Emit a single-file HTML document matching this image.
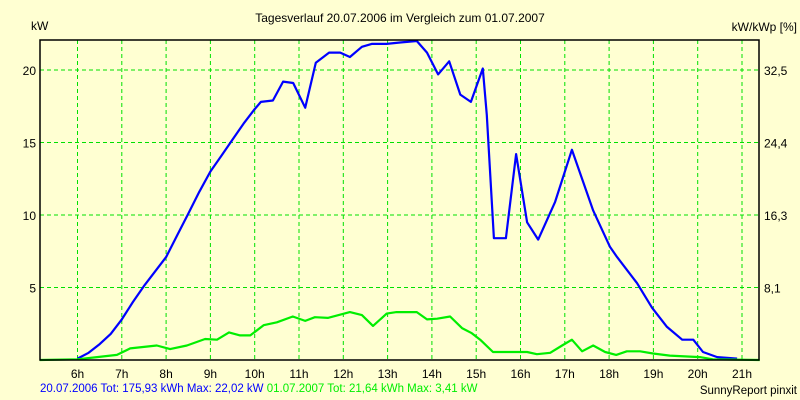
<!DOCTYPE html>
<html><head><meta charset="utf-8"><style>
body{margin:0;background:#ffffd2;}
svg{display:block;font-family:"Liberation Sans",sans-serif;font-size:12px;}
</style></head><body>
<svg id="chart" width="800" height="400" viewBox="0 0 800 400" xmlns="http://www.w3.org/2000/svg">
<rect x="0" y="0" width="800" height="400" fill="#ffffd2"/>
<text x="400" y="22" text-anchor="middle" fill="#000">Tagesverlauf 20.07.2006 im Vergleich zum 01.07.2007</text>
<text x="31" y="30" fill="#000">kW</text>
<text x="797" y="31" text-anchor="end" fill="#000">kW/kWp [%]</text>
<g id="grid"></g>
<g id="ticks"></g>
<g id="series"></g>
<rect x="40" y="40" width="719" height="320" fill="none" stroke="#000" stroke-width="1.5"/>
<text x="40" y="392" font-size="11.5"><tspan fill="#0000ff">20.07.2006 Tot: 175,93 kWh Max: 22,02 kW</tspan><tspan fill="#00ee00"> 01.07.2007 Tot: 21,64 kWh Max: 3,41 kW</tspan></text>
<text x="797" y="394" text-anchor="end" font-size="11.5" fill="#000">SunnyReport pinxit</text>
</svg>
<script>
const hourTicks=[6,7,8,9,10,11,12,13,14,15,16,17,18,19,20,21];
const kwTicks=[5,10,15,20];
const rightTickLabels=["8,1","16,3","24,4","32,5"];
const blueTimes=[6.0,6.25,6.5,6.75,7.0,7.25,7.5,7.75,8.0,8.25,8.5,8.75,9.0,9.25,9.5,9.75,10.0,10.14,10.41,10.64,10.87,11.14,11.38,11.68,11.93,12.15,12.42,12.64,12.98,13.28,13.66,13.89,14.14,14.39,14.64,14.88,15.15,15.24,15.4,15.67,15.9,16.15,16.4,16.78,17.16,17.64,18.02,18.18,18.63,18.97,19.3,19.65,19.9,20.12,20.44,20.89];
const blueKw=[0.1,0.5,1.1,1.8,2.8,4.0,5.1,6.1,7.1,8.6,10.1,11.6,13.0,14.1,15.2,16.3,17.3,17.8,17.9,19.2,19.1,17.4,20.5,21.2,21.2,20.9,21.6,21.8,21.8,21.9,22.0,21.2,19.7,20.6,18.3,17.8,20.1,16.9,8.4,8.4,14.2,9.5,8.3,10.9,14.5,10.3,7.8,7.1,5.3,3.6,2.3,1.4,1.4,0.55,0.2,0.1];
const greenTimes=[5.15,6.0,6.44,6.89,7.19,7.79,8.09,8.47,8.88,9.15,9.42,9.67,9.9,10.2,10.5,10.86,11.14,11.36,11.65,12.15,12.42,12.67,12.98,13.2,13.66,13.89,14.12,14.41,14.68,14.9,15.09,15.38,16.15,16.37,16.67,16.94,17.16,17.39,17.64,17.91,18.16,18.4,18.7,18.99,19.37,20.05,20.34,21.4];
const greenKw=[0,0.05,0.2,0.35,0.8,1.0,0.75,1.0,1.45,1.4,1.9,1.7,1.7,2.4,2.6,3.0,2.7,2.95,2.9,3.3,3.1,2.35,3.2,3.3,3.3,2.8,2.85,3.0,2.2,1.85,1.4,0.55,0.55,0.4,0.5,1.0,1.4,0.6,1.0,0.55,0.35,0.6,0.6,0.45,0.3,0.2,0.05,0];
const NS="http://www.w3.org/2000/svg";
function xs(h){return 77.5+(h-6)*44.3;}
function ys(k){return 360-k*14.5;}
const grid=document.getElementById('grid'),ticks=document.getElementById('ticks'),ser=document.getElementById('series');
hourTicks.forEach(h=>{
  const l=document.createElementNS(NS,'line');
  
  
  l.setAttribute('x1',xs(h));l.setAttribute('x2',xs(h));l.setAttribute('y1',40);l.setAttribute('y2',360);
  l.setAttribute('stroke','#00e000');l.setAttribute('stroke-dasharray','4,3');
  grid.appendChild(l);
  const t=document.createElementNS(NS,'text');
  
  
  t.setAttribute('x',xs(h));t.setAttribute('y',378);t.setAttribute('text-anchor','middle');
  t.textContent=h+'h';ticks.appendChild(t);
});
kwTicks.forEach((k,i)=>{
  const l=document.createElementNS(NS,'line');
  
  
  l.setAttribute('x1',40);l.setAttribute('x2',759);l.setAttribute('y1',ys(k));l.setAttribute('y2',ys(k));
  l.setAttribute('stroke','#00e000');l.setAttribute('stroke-dasharray','4,3');
  grid.appendChild(l);
  const t=document.createElementNS(NS,'text');
  
  
  t.setAttribute('x',36);t.setAttribute('y',ys(k)+5);t.setAttribute('text-anchor','end');
  t.textContent=k;ticks.appendChild(t);
  const r=document.createElementNS(NS,'text');
  
  
  r.setAttribute('x',764);r.setAttribute('y',ys(k)+5);
  r.textContent=rightTickLabels[i];ticks.appendChild(r);
});
function line(ts,vs,color,name){
  const p=document.createElementNS(NS,'polyline');
  
  
  p.setAttribute('points',ts.map((t,i)=>xs(t).toFixed(1)+','+ys(vs[i]).toFixed(1)).join(' '));
  p.setAttribute('fill','none');p.setAttribute('stroke',color);p.setAttribute('stroke-width','2.2');p.setAttribute('stroke-linejoin','round');
  ser.appendChild(p);
}
line(blueTimes,blueKw,'#0000ff','series-2006-line');
line(greenTimes,greenKw,'#00ee00','series-2007-line');
</script>
</body></html>
